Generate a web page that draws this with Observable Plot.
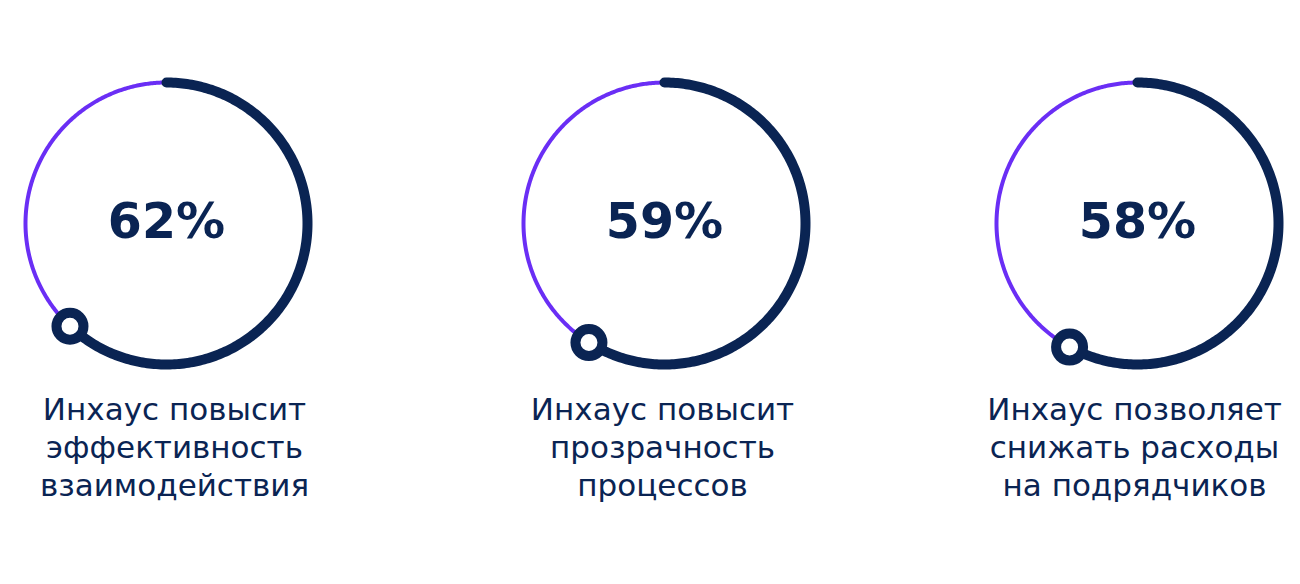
<!DOCTYPE html>
<html><head><meta charset="utf-8">
<script src="https://cdn.jsdelivr.net/npm/d3@7"></script>
<script src="https://cdn.jsdelivr.net/npm/@observablehq/plot@0.6"></script>
<style>
html,body{margin:0;padding:0;background:#fff;}
#chart{width:1300px;height:584px;}
</style></head>
<body><div id="chart"></div>
<script>
// Data
const categories = ["eff", "transp", "costs"];
const values = [62, 59, 58];
const labels = [
  "Инхаус повысит\nэффективность\nвзаимодействия",
  "Инхаус повысит\nпрозрачность\nпроцессов",
  "Инхаус позволяет\nснижать расходы\nна подрядчиков"
];

// Layout (pixels)
const W = 1300, H = 584;
const centersX = [166, 664, 1137];
const labelShift = [8, -2, -3];
const centerY = 223;
const R = 141;
const NAVY = "#0a2453", PURPLE = "#6a2ef5";

const arcPts = [];
const markers = [];
const rows = categories.map((c, i) => ({cat: c, value: values[i], label: labels[i], cx: centersX[i], lx: centersX[i] + labelShift[i]}));
for (const d of rows) {
  const end = d.value / 100 * 2 * Math.PI;
  const N = 240;
  for (let k = 0; k <= N; k++) {
    const t = end * k / N;
    arcPts.push({cat: d.cat, part: "done", x: d.cx + R * Math.sin(t), y: centerY - R * Math.cos(t)});
  }
  for (let k = 0; k <= N; k++) {
    const t = end + (2 * Math.PI - end) * k / N;
    arcPts.push({cat: d.cat, part: "rest", x: d.cx + R * Math.sin(t), y: centerY - R * Math.cos(t)});
  }
  markers.push({cat: d.cat, x: d.cx + R * Math.sin(end), y: centerY - R * Math.cos(end)});
}

const chart = Plot.plot({
  width: W, height: H,
  margin: 0,
  x: {domain: [0, W], range: [0, W], axis: null},
  y: {domain: [0, H], range: [0, H], axis: null},
  marks: [
    Plot.line(arcPts.filter(d => d.part === "rest"), {x: "x", y: "y", z: "cat", stroke: PURPLE, strokeWidth: 4, strokeLinecap: "butt"}),
    Plot.line(arcPts.filter(d => d.part === "done"), {x: "x", y: "y", z: "cat", stroke: NAVY, strokeWidth: 10, strokeLinecap: "round"}),
    Plot.dot(markers, {x: "x", y: "y", r: 13.5, fill: "white", stroke: NAVY, strokeWidth: 10}),
    Plot.text(rows, {x: "cx", y: () => centerY + 14, text: d => d.value + "%", lineAnchor: "bottom",
      fontSize: 49, fontWeight: 700, fill: NAVY, fontFamily: "'DejaVu Sans', sans-serif", textAnchor: "middle"}),
    Plot.text(rows, {x: "lx", y: () => 495, text: "label", lineAnchor: "bottom",
      fontSize: 31, lineHeight: 1.21, fill: NAVY, fontFamily: "'DejaVu Sans', sans-serif", textAnchor: "middle"})
  ]
});
document.getElementById("chart").appendChild(chart);
</script>
</body></html>
